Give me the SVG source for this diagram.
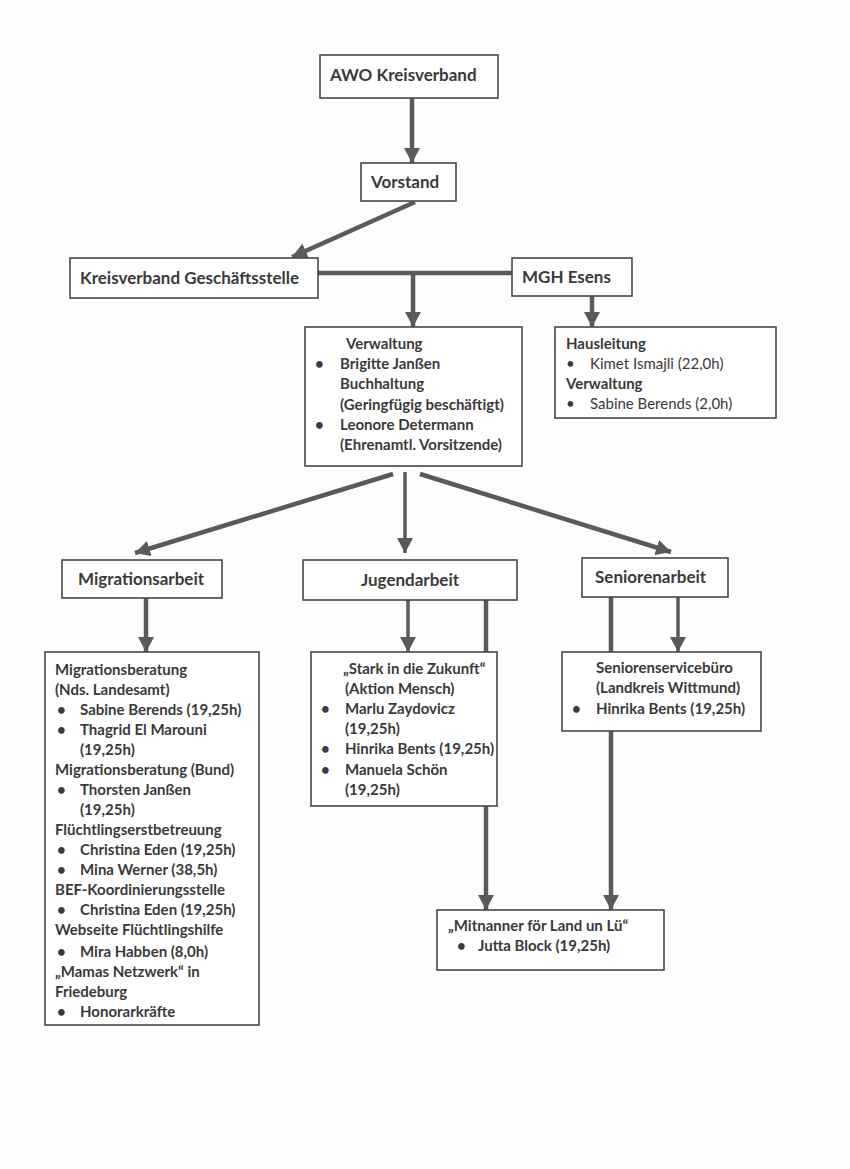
<svg xmlns="http://www.w3.org/2000/svg" width="850" height="1169" viewBox="0 0 850 1169">
<style>
.box{fill:#fff;stroke:#474747;stroke-width:1.6}
.t{font-family:Lato,"Open Sans","Liberation Sans",sans-serif;font-weight:bold;fill:#3a3a3a;font-size:15px}
.h{font-size:17px}
.r{font-weight:normal}
.c{stroke:#5a5a5a;stroke-width:4.5;fill:none}
.thin{stroke-width:3.5}
</style>
<defs>
<marker id="ah" markerUnits="userSpaceOnUse" markerWidth="18" markerHeight="16" refX="15" refY="8" orient="auto">
<path d="M0,0 L15,8 L0,16 z" fill="#5a5a5a"/>
</marker>
</defs>
<rect width="850" height="1169" fill="#fdfdfd"/>
<g id="connectors">
<line class="c" x1="412" y1="98" x2="412" y2="163" marker-end="url(#ah)"/>
<line class="c" x1="415" y1="202" x2="292" y2="257" marker-end="url(#ah)"/>
<line class="c" x1="318" y1="273" x2="512" y2="273"/>
<line class="c" x1="413" y1="273" x2="413" y2="327" marker-end="url(#ah)"/>
<line class="c" x1="592" y1="296" x2="592" y2="327" marker-end="url(#ah)"/>
<line class="c" x1="393" y1="474" x2="135" y2="553" marker-end="url(#ah)"/>
<line class="c thin" x1="405" y1="472" x2="405" y2="553" marker-end="url(#ah)"/>
<line class="c" x1="420" y1="474" x2="671" y2="552" marker-end="url(#ah)"/>
<line class="c" x1="146" y1="598" x2="146" y2="652" marker-end="url(#ah)"/>
<line class="c thin" x1="408" y1="600" x2="408" y2="652" marker-end="url(#ah)"/>
<line class="c" x1="486" y1="600" x2="486" y2="910" marker-end="url(#ah)"/>
<line class="c" x1="611" y1="597" x2="611" y2="910" marker-end="url(#ah)"/>
<line class="c thin" x1="678" y1="597" x2="678" y2="652" marker-end="url(#ah)"/>
</g>
<g id="awo">
<rect class="box" x="320" y="55" width="178" height="43"/>
<text class="t h" x="330" y="81">AWO Kreisverband</text>
</g>
<g id="vorstand">
<rect class="box" x="361" y="163" width="95" height="38"/>
<text class="t h" x="371" y="188">Vorstand</text>
</g>
<g id="geschaeftsstelle">
<rect class="box" x="70" y="258" width="248" height="40"/>
<text class="t h" x="80" y="284">Kreisverband Geschäftsstelle</text>
</g>
<g id="mgh">
<rect class="box" x="512" y="258" width="120" height="38"/>
<text class="t h" x="522" y="283">MGH Esens</text>
</g>
<g id="verwaltung">
<rect class="box" x="305" y="327" width="217" height="139"/>
<text class="t" x="346" y="349">Verwaltung</text>
<text class="t" x="315" y="369">•</text>
<text class="t" x="340" y="369">Brigitte Janßen</text>
<text class="t" x="340" y="389">Buchhaltung</text>
<text class="t" x="340" y="410">(Geringfügig beschäftigt)</text>
<text class="t" x="315" y="430">•</text>
<text class="t" x="340" y="430">Leonore Determann</text>
<text class="t" x="340" y="450">(Ehrenamtl. Vorsitzende)</text>
</g>
<g id="mgh-details">
<rect class="box" x="555" y="327" width="221" height="91"/>
<text class="t" x="566" y="349">Hausleitung</text>
<text class="t r" x="566" y="369">•</text>
<text class="t r" x="590" y="369">Kimet Ismajli (22,0h)</text>
<text class="t" x="566" y="389">Verwaltung</text>
<text class="t r" x="566" y="409">•</text>
<text class="t r" x="590" y="409">Sabine Berends (2,0h)</text>
</g>
<g id="migrationsarbeit">
<rect class="box" x="62" y="560" width="160" height="38"/>
<text class="t h" x="78" y="585">Migrationsarbeit</text>
</g>
<g id="jugendarbeit">
<rect class="box" x="303" y="560" width="214" height="40"/>
<text class="t h" x="410" y="586" text-anchor="middle">Jugendarbeit</text>
</g>
<g id="seniorenarbeit">
<rect class="box" x="582" y="558" width="146" height="39"/>
<text class="t h" x="595" y="583">Seniorenarbeit</text>
</g>
<g id="migration-details">
<rect class="box" x="45" y="652" width="214" height="373"/>
<text class="t" x="55" y="675">Migrationsberatung</text>
<text class="t" x="55" y="695">(Nds. Landesamt)</text>
<text class="t" x="57" y="715">•</text>
<text class="t" x="80" y="715">Sabine Berends (19,25h)</text>
<text class="t" x="57" y="735">•</text>
<text class="t" x="80" y="735">Thagrid El Marouni</text>
<text class="t" x="80" y="755">(19,25h)</text>
<text class="t" x="55" y="775">Migrationsberatung (Bund)</text>
<text class="t" x="57" y="795">•</text>
<text class="t" x="80" y="795">Thorsten Janßen</text>
<text class="t" x="80" y="815">(19,25h)</text>
<text class="t" x="55" y="835">Flüchtlingserstbetreuung</text>
<text class="t" x="57" y="855">•</text>
<text class="t" x="80" y="855">Christina Eden (19,25h)</text>
<text class="t" x="57" y="875">•</text>
<text class="t" x="80" y="875">Mina Werner (38,5h)</text>
<text class="t" x="55" y="895">BEF-Koordinierungsstelle</text>
<text class="t" x="57" y="915">•</text>
<text class="t" x="80" y="915">Christina Eden (19,25h)</text>
<text class="t" x="55" y="935">Webseite Flüchtlingshilfe</text>
<text class="t" x="57" y="957">•</text>
<text class="t" x="80" y="957">Mira Habben (8,0h)</text>
<text class="t" x="55" y="977">„Mamas Netzwerk“ in</text>
<text class="t" x="55" y="997">Friedeburg</text>
<text class="t" x="57" y="1017">•</text>
<text class="t" x="80" y="1017">Honorarkräfte</text>
</g>
<g id="jugend-details">
<rect class="box" x="311" y="652" width="186" height="154"/>
<text class="t" x="343" y="674">„Stark in die Zukunft“</text>
<text class="t" x="345" y="694">(Aktion Mensch)</text>
<text class="t" x="321" y="714">•</text>
<text class="t" x="345" y="714">Marlu Zaydovicz</text>
<text class="t" x="345" y="734">(19,25h)</text>
<text class="t" x="321" y="754">•</text>
<text class="t" x="345" y="754">Hinrika Bents (19,25h)</text>
<text class="t" x="321" y="775">•</text>
<text class="t" x="345" y="775">Manuela Schön</text>
<text class="t" x="345" y="795">(19,25h)</text>
</g>
<g id="senioren-details">
<rect class="box" x="562" y="652" width="199" height="79"/>
<text class="t" x="596" y="673">Seniorenservicebüro</text>
<text class="t" x="596" y="693">(Landkreis Wittmund)</text>
<text class="t" x="572" y="714">•</text>
<text class="t" x="596" y="714">Hinrika Bents (19,25h)</text>
</g>
<g id="mitnanner">
<rect class="box" x="437" y="910" width="227" height="60"/>
<text class="t" x="448" y="931">„Mitnanner för Land un Lü“</text>
<text class="t" x="457" y="951">•</text>
<text class="t" x="478" y="951">Jutta Block (19,25h)</text>
</g>
</svg>
